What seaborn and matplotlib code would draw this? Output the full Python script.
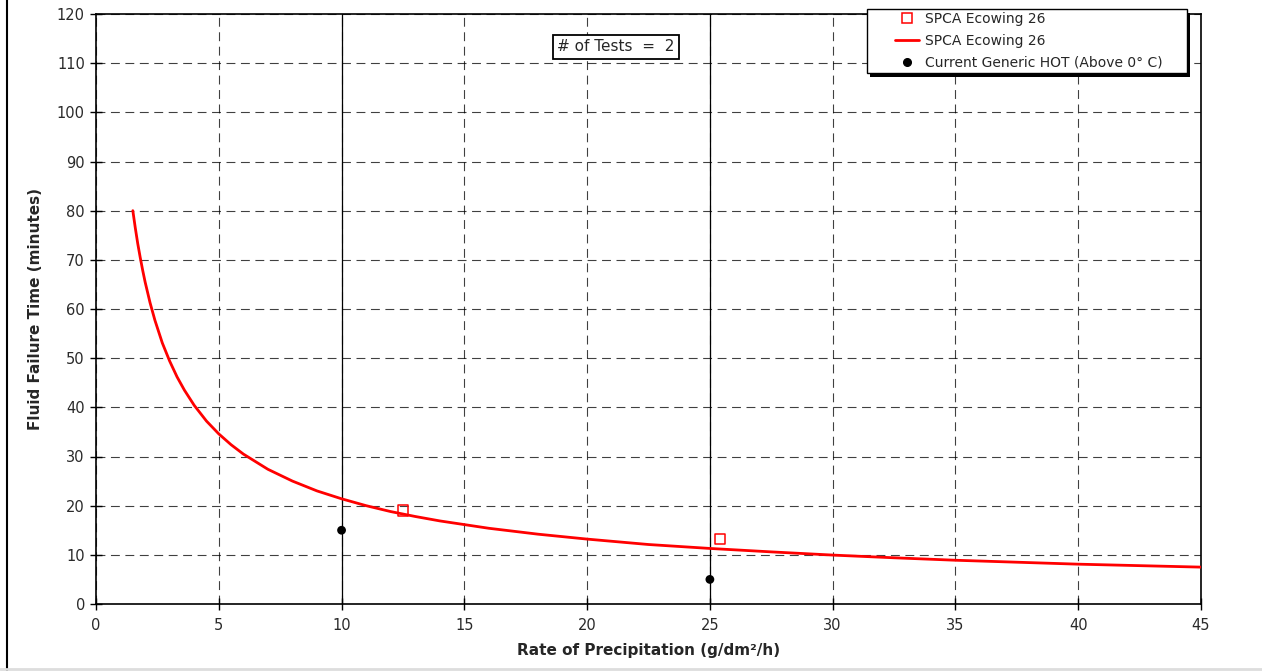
import matplotlib
matplotlib.use("Agg")
import matplotlib.pyplot as plt
from matplotlib.lines import Line2D
from matplotlib.patches import Rectangle
import seaborn as sns

# fitted curve for SPCA Ecowing 26
curve_rate = [1.5, 1.6, 1.7, 1.8, 1.9, 2, 2.2, 2.4, 2.7, 3, 3.3, 3.6, 4, 4.5, 5, 5.5, 6, 7, 8, 9, 10,
              11, 12, 13, 14, 16, 18, 20, 22.5, 25, 27.5, 30, 32.5, 35, 37.5, 40, 42.5, 45]
curve_time = [80, 76.5, 73.3, 70.5, 67.9, 65.5, 61.3, 57.7, 53.1, 49.4, 46.2, 43.5, 40.4, 37.2, 34.6,
              32.4, 30.5, 27.4, 25.0, 23.0, 21.4, 20.0, 18.8, 17.8, 16.9, 15.4, 14.2, 13.2, 12.1,
              11.3, 10.6, 9.95, 9.4, 8.9, 8.5, 8.1, 7.8, 7.5]

# measured tests
test_rate = [12.5, 25.4]
test_time = [19.0, 13.2]

# current generic HOT
hot_rate = [10, 25]
hot_time = [15, 5]

sns.set_style("white")
plt.rcParams['font.family'] = ['DejaVu Sans']

W, H = 1262, 671
fig = plt.figure(figsize=(W / 100, H / 100), dpi=100)
ax = fig.add_axes([96 / W, 1 - 604 / H, (1201 - 96) / W, (604 - 14) / H])

ax.set_xlim(0, 45)
ax.set_ylim(0, 120)
ax.set_xticks(range(0, 46, 5))
ax.set_yticks(range(0, 121, 10))
ax.grid(True, color="black", linestyle=(0, (8, 5)), linewidth=0.8, alpha=0.75)
ax.set_axisbelow(True)

# solid vertical lines at the generic HOT rates
for r in hot_rate:
    ax.axvline(r, color="black", linewidth=0.9, zorder=1.5)

sns.lineplot(x=curve_rate, y=curve_time, ax=ax, color="#ff0000", linewidth=2, zorder=3)
sns.scatterplot(x=test_rate, y=test_time, ax=ax, marker="s", s=55, facecolor="none",
                edgecolor="#ff0000", linewidth=1.1, zorder=4)
sns.scatterplot(x=hot_rate, y=hot_time, ax=ax, color="black", s=40, edgecolor="none", zorder=4)

for s in ax.spines.values():
    s.set_color("black")
    s.set_linewidth(1.2)
ax.tick_params(bottom=True, left=True, direction="inout", length=8, width=1, color="black",
               labelsize=10.5, labelcolor="#2a2a2a", pad=4)
ax.tick_params(axis="x", pad=6)

ax.set_xlabel("Rate of Precipitation (g/dm²/h)", fontsize=11, fontweight="bold", labelpad=7)
ax.set_ylabel("Fluid Failure Time (minutes)", fontsize=11, fontweight="bold", labelpad=10)

ax.text(21.17, 113.3, "# of Tests  =  2", fontsize=11, ha="center", va="center",
        bbox=dict(boxstyle="square,pad=0.3", facecolor="white", edgecolor="black", linewidth=1.3),
        zorder=5)

# legend box with a hard black shadow
fig.add_artist(Rectangle((870 / W, 1 - 77 / H), 320 / W, 64 / H, transform=fig.transFigure,
                         facecolor="black", edgecolor="none"))
fig.add_artist(Rectangle((867 / W, 1 - 73 / H), 320 / W, 64 / H, transform=fig.transFigure,
                         facecolor="white", edgecolor="black", linewidth=1.0))

handles = [
    Line2D([], [], linestyle="none", marker="s", markersize=7, markerfacecolor="none",
           markeredgecolor="#ff0000", markeredgewidth=1.1),
    Line2D([], [], color="#ff0000", linewidth=2),
    Line2D([], [], linestyle="none", marker="o", markersize=5.5, color="black"),
]
labels = ["SPCA Ecowing 26", "SPCA Ecowing 26", "Current Generic HOT (Above 0° C)"]
fig.legend(handles, labels, loc="upper left", bbox_to_anchor=(891 / W, 1 - 8 / H),
           frameon=False, fontsize=10, borderaxespad=0, borderpad=0.3,
           handlelength=1.75, handletextpad=0.4, labelspacing=0.55)

# outer frame of the chart area
fig.add_artist(Line2D([7 / W, 7 / W], [0, 1], color="black", linewidth=1.5))
fig.add_artist(Line2D([0, 1], [2 / H, 2 / H], color="#dddddd", linewidth=2))

fig.savefig("out.png", dpi=100)
